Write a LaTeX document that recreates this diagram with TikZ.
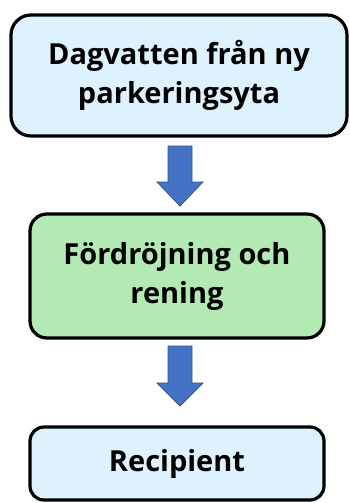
\documentclass[tikz,border=0pt]{standalone}
\usepackage{fontspec}
\setmainfont{Open Sans}
\definecolor{boxblue}{HTML}{DDF2FD}
\definecolor{boxgreen}{HTML}{B3EAB4}
\definecolor{arrowblue}{HTML}{4472C4}
\definecolor{arrowedge}{HTML}{2F528F}
\begin{document}
\begin{tikzpicture}[x=1pt,y=-1pt,
  flowbox/.style={draw=black,line width=3.2pt,rounded corners=20pt,align=center,
    inner sep=0pt,font=\fontsize{29}{39}\selectfont\bfseries},
  downarrow/.style={fill=arrowblue,draw=arrowedge,line width=0.8pt}]
\useasboundingbox (0,0) rectangle (349,503);
\node[flowbox,fill=boxblue,minimum width=336pt,minimum height=121pt] (top) at (179,75.5) {Dagvatten från ny\\parkeringsyta};
\node[flowbox,fill=boxgreen,rounded corners=17pt,minimum width=294pt,minimum height=124pt] (mid) at (177,276) {Fördröjning och\\rening};
\node[flowbox,fill=boxblue,rounded corners=14pt,minimum width=294pt,minimum height=73pt] (bot) at (177,463.5) {Recipient};
\draw[downarrow] (168,146) -- (192,146) -- (192,182) -- (203,182) -- (180,206) -- (157,182) -- (168,182) -- cycle;
\draw[downarrow] (168,346) -- (192,346) -- (192,383) -- (203,383) -- (180,406) -- (157,383) -- (168,383) -- cycle;
\end{tikzpicture}
\end{document}
